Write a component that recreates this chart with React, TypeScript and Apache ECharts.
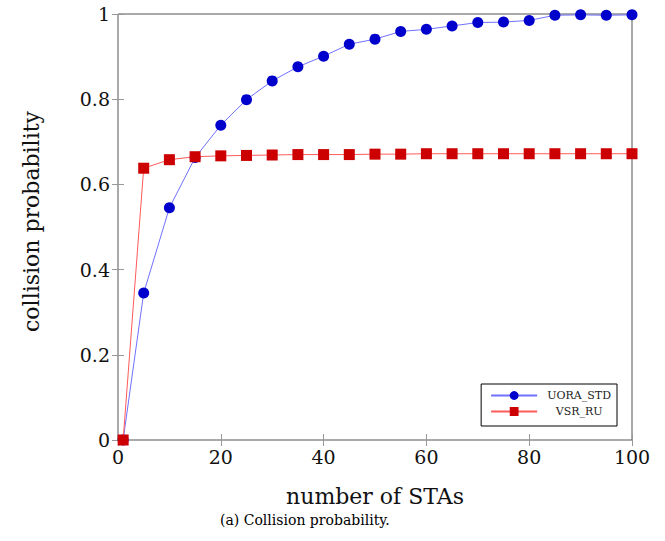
import React, { useEffect, useRef } from "react";
import * as echarts from "echarts";

const stations = [1, 5, 10, 15, 20, 25, 30, 35, 40, 45, 50, 55, 60, 65, 70, 75, 80, 85, 90, 95, 100];
const uoraStd = [0, 0.345, 0.545, 0.663, 0.739, 0.799, 0.843, 0.876, 0.901, 0.929, 0.941, 0.959, 0.964, 0.972, 0.98, 0.981, 0.985, 0.997, 0.998, 0.997, 0.998];
const vsrRu = [0, 0.638, 0.658, 0.665, 0.667, 0.668, 0.669, 0.67, 0.67, 0.67, 0.671, 0.671, 0.672, 0.672, 0.672, 0.672, 0.672, 0.672, 0.672, 0.672, 0.672];
const seriesNames = ["UORA_STD", "VSR_RU"];
const xTitle = "number of STAs";
const yTitle = "collision probability";
const caption = "(a) Collision probability.";

const FONT = "'DejaVu Serif', serif";

export default function App() {
  const ref = useRef<HTMLDivElement>(null);
  useEffect(() => {
    if (!ref.current) return;
    const chart = echarts.init(ref.current, null, { renderer: "svg" });
    const tick = { show: true, inside: true, length: 6, lineStyle: { color: "#999", width: 1 } };
    chart.setOption({
      animation: false,
      backgroundColor: "#fff",
      title: {
        text: caption, left: 220, top: 513, padding: 0,
        textStyle: { fontFamily: FONT, fontSize: 14, fontWeight: "normal", color: "#000" },
      },
      grid: { left: 118, right: 33, top: 14, bottom: 101, show: true, borderColor: "#555", borderWidth: 1 },
      xAxis: [
        {
          type: "value", min: 0, max: 100, interval: 20,
          axisLine: { show: false }, axisTick: tick, splitLine: { show: false },
          axisLabel: { fontFamily: FONT, fontSize: 19, color: "#111", margin: 7 },
          name: xTitle, nameLocation: "middle", nameGap: 45,
          nameTextStyle: { fontFamily: FONT, fontSize: 22, color: "#111" },
        },
        {
          type: "value", min: 0, max: 100, interval: 20, position: "top",
          axisLine: { show: false }, axisTick: tick, axisLabel: { show: false }, splitLine: { show: false },
        },
      ],
      yAxis: [
        {
          type: "value", min: 0, max: 1, interval: 0.2,
          axisLine: { show: false }, axisTick: tick, splitLine: { show: false },
          axisLabel: { fontFamily: FONT, fontSize: 19, color: "#111", margin: 8 },
          name: yTitle, nameLocation: "middle", nameGap: 76,
          nameTextStyle: { fontFamily: FONT, fontSize: 22, color: "#111", padding: [0, 0, 0, 11] },
        },
        {
          type: "value", min: 0, max: 1, interval: 0.2, position: "right",
          axisLine: { show: false }, axisTick: tick, axisLabel: { show: false }, splitLine: { show: false },
        },
      ],
      legend: {
        right: 48, top: 384, orient: "vertical",
        backgroundColor: "#fff", borderColor: "#000", borderWidth: 1,
        padding: [6, 6, 9, 9], itemGap: 5, itemWidth: 46, itemHeight: 11,
        formatter: (n: string) => `{c|${n}}`,
        textStyle: {
          fontFamily: FONT, fontSize: 11, color: "#222",
          rich: { c: { width: 74, align: "center", fontFamily: FONT, fontSize: 11, color: "#222" } },
        },
        data: seriesNames,
      },
      series: [
        {
          name: seriesNames[0], type: "line", z: 2,
          data: stations.map((s, i) => [s, uoraStd[i]]),
          symbol: "circle", symbolSize: 11,
          itemStyle: { color: "#0000cc" },
          lineStyle: { color: "#7070ff", width: 1 },
        },
        {
          name: seriesNames[1], type: "line", z: 3,
          data: stations.map((s, i) => [s, vsrRu[i]]),
          symbol: "rect", symbolSize: 11,
          itemStyle: { color: "#cc0000" },
          lineStyle: { color: "#ff5a5a", width: 1 },
        },
      ],
    });
    return () => chart.dispose();
  }, []);
  return <div ref={ref} style={{ width: 665, height: 541, position: "absolute", left: 0, top: 0 }} />;
}
